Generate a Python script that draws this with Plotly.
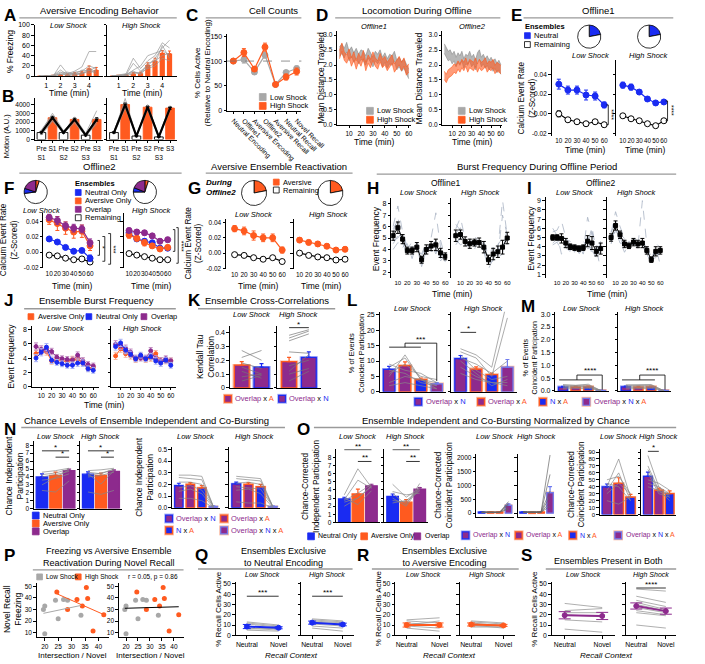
import plotly.graph_objects as go
import numpy as np

W, H = 705, 664
FONT = "Liberation Sans, Arial, Helvetica, sans-serif"
OR = "#FF5A1F"
BL = "#1A2BF2"
PU = "#8D2A8D"
GRY = "#A8A8A8"
LOR = "#F9B79E"
LBL = "#A8B1F7"
MICE = "#959595"
DASH = "#A9B4C4"

# ================= DATA =================
A_TIME = [0.5, 1.0, 1.5, 2.0, 2.5, 3.0, 3.5, 4.0, 4.5]
A_LOW_MEAN = [0, 0.5, 1, 2, 3, 5, 7, 15, 12]
A_LOW_SEM = [0, 0.3, 0.5, 1, 1.5, 2, 2.5, 5, 5]
A_HIGH_MEAN = [0, 1, 2, 5, 6, 22, 30, 45, 44]
A_HIGH_SEM = [0, 0.5, 1, 2, 2, 4, 5, 5, 5]
A_LOW_MICE = [[0, 0, 1, 22, 5, 10, 18, 48, 48], [0, 0, 2, 12, 3, 8, 10, 20, 15],
              [0, 1, 0, 6, 8, 4, 12, 10, 18], [0, 0, 1, 4, 2, 6, 5, 15, 8],
              [0, 0, 0, 3, 6, 2, 8, 6, 12], [0, 0, 2, 8, 1, 3, 4, 12, 5]]
A_HIGH_MICE = [[0, 2, 5, 35, 15, 30, 40, 65, 55], [0, 1, 3, 25, 10, 20, 35, 55, 70],
               [0, 0, 2, 12, 20, 40, 45, 50, 40], [0, 1, 2, 8, 5, 25, 30, 40, 45],
               [0, 0, 1, 5, 8, 15, 20, 35, 30], [0, 1, 4, 10, 3, 18, 25, 60, 35]]

B_POS = [0, 1, 2, 3, 4, 5]
B_LABELS = ["Pre<br>S1", "S1", "Pre<br>S2", "S2", "Pre<br>S3", "S3"]
B_LOW = [800, 2500, 800, 2300, 500, 2300]
B_LOW_SEM = [150, 150, 100, 150, 80, 200]
B_HIGH = [800, 4000, 400, 3700, 300, 3600]
B_HIGH_SEM = [100, 200, 80, 150, 60, 150]
B_LOW_MICE = [[900, 2600, 700, 2400, 500, 2500], [600, 2200, 900, 2100, 400, 2000],
              [1100, 2800, 800, 2600, 700, 3300], [700, 2400, 600, 2200, 300, 2100],
              [1000, 3000, 1000, 2300, 600, 2400], [500, 2100, 700, 1900, 400, 1800]]
B_HIGH_MICE = [[900, 4300, 500, 3900, 400, 3800], [700, 3800, 300, 3500, 200, 3500],
               [800, 4700, 400, 4000, 300, 3700], [600, 3600, 500, 3400, 200, 3300],
               [1000, 4100, 300, 3800, 400, 3900]]

C_POS = [0, 1, 2, 3, 4, 5, 6]
C_CATS = ["Neutral Encoding", "Offline1", "Aversive Encoding", "Offline2",
          "Aversive Recall", "Neutral Recall", "Novel Recall"]
C_LOW = [100, 103, 78, 112, 53, 77, 85]
C_LOW_SEM = [0, 7, 5, 6, 3, 4, 5]
C_HIGH = [100, 117, 84, 128, 53, 68, 79]
C_HIGH_SEM = [0, 8, 5, 8, 3, 6, 7]

D_TIME = [2, 4, 6, 8, 10, 12, 14, 16, 18, 20, 22, 24, 26, 28, 30,
          32, 34, 36, 38, 40, 42, 44, 46, 48, 50, 52, 54, 56, 58, 60]
D1_LOW = [2.45, 2.55, 2.4, 2.6, 2.3, 2.45, 2.25, 2.4, 2.2, 2.35, 2.3, 2.15, 2.4, 2.25, 2.1,
          2.3, 2.2, 2.35, 2.1, 2.25, 2.05, 2.2, 2.15, 2.3, 2.0, 2.1, 1.95, 2.05, 1.85, 1.7]
D1_HIGH = [2.35, 2.6, 2.3, 2.2, 2.4, 2.1, 2.3, 2.0, 2.25, 2.1, 2.35, 1.95, 2.2, 2.05, 2.3,
           2.1, 2.0, 2.25, 2.05, 2.15, 1.95, 2.1, 2.2, 1.9, 2.05, 2.15, 1.95, 2.1, 1.8, 1.9]
D2_LOW = [2.55, 2.4, 2.3, 2.35, 2.2, 2.3, 2.1, 2.25, 2.15, 2.3, 2.05, 2.2, 2.15, 2.3, 2.1,
          2.2, 2.0, 2.25, 2.35, 2.1, 2.2, 2.05, 2.15, 2.0, 2.1, 1.95, 2.05, 1.9, 2.0, 1.85]
D2_HIGH = [1.65, 1.55, 1.7, 1.75, 1.8, 1.9, 1.85, 2.0, 1.9, 2.05, 1.95, 2.1, 1.9, 2.05, 2.0,
           1.95, 2.1, 1.9, 2.05, 1.95, 2.0, 2.1, 1.9, 2.0, 1.95, 2.05, 1.85, 1.95, 1.9, 1.85]
D_SEM_LOW = 0.16
D_SEM_HIGH = 0.14

E_TIME = [10, 20, 30, 40, 50, 60]
E_LOW_NEU = [0.030, 0.024, 0.024, 0.019, 0.018, 0.009]
E_LOW_NEU_SEM = [0.005, 0.004, 0.004, 0.005, 0.004, 0.003]
E_LOW_REM = [0.000, -0.006, -0.008, -0.010, -0.008, -0.011]
E_LOW_REM_SEM = [0.003, 0.002, 0.002, 0.002, 0.002, 0.002]
E_HIGH_NEU = [0.029, 0.027, 0.022, 0.015, 0.011, 0.012]
E_HIGH_NEU_SEM = [0.003, 0.003, 0.002, 0.002, 0.002, 0.002]
E_HIGH_REM = [-0.002, -0.005, -0.007, -0.010, -0.012, -0.007]
E_HIGH_REM_SEM = [0.001, 0.001, 0.001, 0.001, 0.001, 0.001]
E_PIE_LOW = [22, 78]
E_PIE_HIGH = [22, 78]

F_TIME = [10, 20, 30, 40, 50, 60]
F_LOW_OVL = [0.045, 0.041, 0.034, 0.031, 0.030, 0.012]
F_LOW_OVL_SEM = [0.004, 0.005, 0.005, 0.005, 0.005, 0.005]
F_LOW_AVE = [0.042, 0.037, 0.031, 0.026, 0.027, 0.008]
F_LOW_AVE_SEM = [0.006, 0.009, 0.008, 0.008, 0.008, 0.006]
F_LOW_NEU = [0.017, 0.013, 0.006, 0.001, 0.002, -0.008]
F_LOW_NEU_SEM = [0.003, 0.002, 0.002, 0.002, 0.002, 0.004]
F_LOW_REM = [-0.004, -0.005, -0.008, -0.010, -0.009, -0.013]
F_LOW_REM_SEM = [0.001, 0.001, 0.001, 0.001, 0.001, 0.001]
F_HIGH_OVL = [0.028, 0.026, 0.025, 0.021, 0.014, 0.016]
F_HIGH_OVL_SEM = [0.003, 0.003, 0.003, 0.003, 0.003, 0.003]
F_HIGH_AVE = [0.022, 0.018, 0.012, 0.008, 0.004, 0.006]
F_HIGH_AVE_SEM = [0.004, 0.004, 0.004, 0.003, 0.003, 0.003]
F_HIGH_NEU = [0.025, 0.017, 0.014, 0.012, 0.005, 0.005]
F_HIGH_NEU_SEM = [0.003, 0.003, 0.003, 0.003, 0.003, 0.003]
F_HIGH_REM = [-0.002, -0.004, -0.006, -0.008, -0.010, -0.010]
F_HIGH_REM_SEM = [0.001, 0.001, 0.001, 0.001, 0.001, 0.001]
F_PIE_LOW = [5, 68, 7, 20]    # aversive, remaining, neutral, overlap
F_PIE_HIGH = [5, 70, 6, 19]

G_TIME = [10, 20, 30, 40, 50, 60]
G_LOW_AVE = [0.032, 0.029, 0.023, 0.020, 0.020, 0.004]
G_LOW_AVE_SEM = [0.004, 0.005, 0.006, 0.005, 0.005, 0.004]
G_LOW_REM = [-0.002, -0.003, -0.006, -0.008, -0.006, -0.011]
G_LOW_REM_SEM = [0.001, 0.001, 0.001, 0.001, 0.001, 0.001]
G_HIGH_AVE = [0.017, 0.014, 0.012, 0.009, 0.004, 0.005]
G_HIGH_AVE_SEM = [0.003, 0.003, 0.003, 0.003, 0.003, 0.003]
G_HIGH_REM = [0.000, -0.003, -0.005, -0.006, -0.009, -0.008]
G_HIGH_REM_SEM = [0.001, 0.001, 0.001, 0.001, 0.001, 0.001]
G_PIE_LOW = [22, 78]
G_PIE_HIGH = [22, 78]

H_TIME = [5, 10, 15, 20, 25, 30, 35, 40, 45, 50, 55, 60]
H_LOW_MEAN = [5.2, 5.9, 4.9, 3.9, 3.9, 4.2, 3.1, 4.0, 4.3, 4.4, 3.7, 3.4]
H_LOW_SEM = [0.4, 0.5, 0.4, 0.3, 0.3, 0.4, 0.3, 0.4, 0.4, 0.5, 0.4, 0.3]
H_HIGH_MEAN = [5.2, 5.3, 4.7, 4.5, 4.6, 4.6, 4.2, 3.1, 3.6, 3.8, 4.2, 5.0]
H_HIGH_SEM = [0.5, 0.4, 0.4, 0.4, 0.3, 0.4, 0.5, 0.4, 0.5, 0.5, 0.6, 0.5]
H_LOW_MICE = [[6.0, 7.8, 5.5, 4.2, 3.6, 4.8, 2.5, 3.8, 5.0, 7.2, 4.2, 3.0],
              [4.5, 5.2, 4.6, 3.4, 4.3, 3.9, 3.6, 4.6, 3.8, 4.0, 3.2, 4.1],
              [5.8, 6.5, 4.2, 4.5, 3.2, 4.6, 2.8, 3.5, 4.6, 3.6, 4.8, 3.2],
              [4.8, 5.0, 5.6, 3.8, 4.1, 3.5, 3.4, 4.4, 4.2, 4.8, 3.5, 3.7],
              [5.5, 6.8, 4.9, 3.6, 3.9, 4.2, 2.6, 3.9, 3.9, 4.3, 3.0, 3.5],
              [4.0, 4.6, 4.4, 4.0, 4.7, 4.4, 3.3, 4.0, 4.5, 3.8, 3.9, 2.9]]
H_HIGH_MICE = [[5.8, 6.8, 4.9, 4.4, 5.2, 4.6, 3.8, 2.3, 3.2, 4.0, 8.3, 5.2],
               [4.6, 5.0, 4.2, 4.8, 4.0, 5.0, 4.6, 3.5, 4.2, 3.3, 3.6, 6.0],
               [6.2, 5.6, 5.1, 3.9, 4.9, 4.2, 3.9, 2.8, 3.0, 4.4, 5.0, 4.4],
               [4.9, 4.4, 4.6, 4.7, 4.3, 4.9, 4.4, 3.6, 3.9, 3.6, 3.9, 5.6],
               [5.4, 5.9, 4.5, 4.1, 4.6, 4.4, 4.8, 2.9, 3.7, 3.9, 4.4, 4.8],
               [4.4, 5.0, 5.0, 5.0, 4.2, 4.2, 4.0, 3.4, 3.4, 3.5, 7.0, 5.3]]
I_LOW_MEAN = [5.0, 5.0, 4.9, 4.4, 4.0, 3.9, 3.8, 3.9, 4.6, 4.4, 3.5, 3.8]
I_LOW_SEM = [0.3, 0.3, 0.5, 0.5, 0.3, 0.3, 0.3, 0.3, 0.6, 0.7, 0.5, 0.6]
I_HIGH_MEAN = [5.0, 6.3, 5.3, 4.3, 4.1, 4.5, 4.3, 4.4, 3.6, 2.6, 3.5, 3.6]
I_HIGH_SEM = [0.4, 0.5, 0.4, 0.4, 0.3, 0.4, 0.4, 0.5, 0.4, 0.3, 0.5, 0.4]
I_LOW_MICE = [[5.6, 5.8, 6.8, 5.0, 4.2, 3.6, 4.0, 3.5, 7.2, 5.5, 3.0, 4.6],
              [4.4, 4.8, 4.2, 3.8, 3.5, 4.2, 3.3, 4.6, 4.0, 5.6, 4.2, 3.0],
              [6.0, 5.2, 5.5, 4.8, 4.6, 3.4, 4.2, 3.2, 5.2, 3.6, 2.8, 4.4],
              [4.2, 4.5, 3.6, 4.2, 3.8, 4.4, 3.6, 4.4, 3.8, 4.0, 3.8, 1.5],
              [5.2, 4.6, 4.9, 4.6, 3.7, 3.8, 3.9, 4.1, 4.9, 3.2, 3.6, 4.0],
              [4.8, 5.3, 3.2, 3.5, 4.3, 4.0, 3.2, 3.8, 4.2, 6.2, 3.4, 3.7]]
I_HIGH_MICE = [[5.5, 7.8, 6.2, 4.8, 3.9, 5.0, 4.6, 4.0, 3.2, 2.2, 4.4, 3.9],
               [4.6, 6.8, 5.0, 3.8, 4.6, 4.1, 4.0, 9.0, 4.2, 2.8, 3.0, 3.4],
               [5.2, 5.6, 5.6, 4.5, 3.6, 4.8, 4.8, 4.2, 3.0, 2.4, 3.6, 4.0],
               [4.3, 6.0, 4.6, 3.4, 4.3, 4.4, 3.8, 4.6, 3.9, 3.0, 3.2, 3.2],
               [5.6, 6.5, 5.4, 4.9, 4.4, 4.2, 4.4, 3.6, 3.8, 2.5, 4.0, 2.0],
               [4.8, 5.8, 4.4, 4.2, 3.9, 4.7, 3.9, 4.4, 3.5, 2.7, 2.8, 3.6]]

J_TIME = [5, 10, 15, 20, 25, 30, 35, 40, 45, 50, 55, 60]
J_LOW_AVE = [4.6, 5.0, 4.9, 3.6, 3.8, 3.6, 3.5, 3.8, 3.8, 3.4, 2.6, 2.7]
J_LOW_NEU = [4.0, 4.8, 5.5, 3.7, 3.4, 3.2, 3.0, 3.0, 3.3, 3.3, 2.5, 2.3]
J_LOW_OVL = [5.6, 5.2, 5.2, 4.9, 4.1, 3.9, 3.8, 3.7, 4.4, 3.6, 3.1, 2.9]
J_HIGH_AVE = [4.3, 5.3, 4.6, 4.3, 3.8, 4.3, 3.8, 4.0, 4.6, 3.6, 3.6, 3.6]
J_HIGH_NEU = [5.6, 6.1, 5.1, 4.5, 3.9, 4.4, 3.9, 4.2, 3.6, 3.3, 3.7, 3.0]
J_HIGH_OVL = [5.9, 5.7, 5.3, 4.8, 4.0, 4.0, 4.0, 5.0, 3.9, 3.6, 3.9, 3.6]
J_SEM = [0.5, 0.5, 0.5, 0.45, 0.4, 0.4, 0.4, 0.45, 0.45, 0.45, 0.4, 0.4]

K_POS = [0, 1]
K_LOW = [0.165, 0.15]
K_LOW_SEM = [0.025, 0.025]
K_HIGH = [0.19, 0.22]
K_HIGH_SEM = [0.03, 0.04]
K_LOW_PAIRS = [[0.27, 0.20], [0.22, 0.27], [0.18, 0.14], [0.15, 0.10], [0.12, 0.07], [0.08, 0.10], [0.05, 0.09]]
K_HIGH_PAIRS = [[0.34, 0.39], [0.36, 0.41], [0.38, 0.42], [0.26, 0.25], [0.16, 0.20], [0.10, 0.14], [0.05, 0.12], [0.12, 0.24]]

L_POS = [0, 1, 2, 3]
L_LOW = [7.3, 8.5, 4.0, 2.6]
L_LOW_SEM = [1.0, 1.2, 0.5, 0.4]
L_HIGH = [10.8, 7.4, 5.6, 8.0]
L_HIGH_SEM = [1.0, 0.7, 0.5, 2.5]
L_LOW_MICE = [[5, 12, 4, 2], [8, 11, 4, 3], [7, 6, 3, 2], [3, 5, 4, 1], [6, 9, 5, 4], [9, 7, 6, 3], [2, 3, 2, 1]]
L_HIGH_MICE = [[14, 12, 8, 30], [13, 11, 5, 24], [12, 7, 4, 5], [8, 5, 3, 3], [11, 9, 6, 10], [10, 6, 2, 4], [6, 4, 3, 2]]

M_LOW = [0.15, 0.15, 0.16, 0.02]
M_LOW_SEM = [0.03, 0.03, 0.03, 0.01]
M_HIGH = [0.16, 0.15, 0.16, 0.02]
M_HIGH_SEM = [0.03, 0.03, 0.03, 0.01]
M_LOW_MICE = [[0.25, 0.22, 0.26, 0.01], [0.2, 0.22, 0.22, 0.01], [0.12, 0.15, 0.18, 0.01], [0.08, 0.1, 0.1, 0.0], [0.18, 0.16, 0.14, 0.01]]
M_HIGH_MICE = [[0.24, 0.24, 0.25, 0.01], [0.2, 0.2, 0.22, 0.01], [0.14, 0.12, 0.15, 0.0], [0.08, 0.09, 0.1, 0.0], [0.18, 0.17, 0.18, 0.01]]

N_POS3 = [0, 1, 2]
N1_LOW = [4.0, 4.2, 4.8]
N1_LOW_SEM = [0.4, 0.4, 0.2]
N1_HIGH = [4.35, 4.2, 4.7]
N1_HIGH_SEM = [0.3, 0.3, 0.2]
N1_LOW_MICE = [[4.6, 4.8, 5.1], [4.3, 4.5, 5.0], [3.0, 4.0, 4.9], [2.3, 2.1, 3.5], [4.0, 4.3, 4.7], [3.6, 3.8, 4.4]]
N1_HIGH_MICE = [[4.8, 4.9, 5.1], [4.6, 4.4, 5.0], [2.1, 1.8, 2.3], [4.4, 3.1, 4.8], [4.2, 4.5, 4.9], [4.0, 4.2, 4.6]]
N2_LOW = [0.19, 0.20, 0.17, 0.01]
N2_LOW_SEM = [0.02, 0.015, 0.02, 0.005]
N2_HIGH = [0.205, 0.20, 0.18, 0.01]
N2_HIGH_SEM = [0.015, 0.015, 0.02, 0.005]
N2_LOW_MICE = [[0.28, 0.28, 0.27, 0.01], [0.26, 0.25, 0.24, 0.01], [0.22, 0.22, 0.2, 0.01], [0.08, 0.08, 0.06, 0.0], [0.17, 0.19, 0.15, 0.01], [0.14, 0.16, 0.12, 0.0]]
N2_HIGH_MICE = [[0.27, 0.26, 0.25, 0.01], [0.25, 0.24, 0.23, 0.01], [0.21, 0.22, 0.2, 0.01], [0.05, 0.04, 0.04, 0.0], [0.18, 0.17, 0.16, 0.01], [0.15, 0.16, 0.12, 0.0]]

O1_LOW = [2.9, 3.5, 4.5]
O1_LOW_SEM = [0.2, 0.6, 0.2]
O1_HIGH = [3.2, 2.5, 4.1]
O1_HIGH_SEM = [0.3, 0.3, 0.2]
O1_LOW_MICE = [[2.8, 5.2, 4.2], [2.5, 3.0, 4.4], [3.0, 2.2, 3.9], [2.7, 3.6, 4.7], [2.0, 3.0, 4.5], [3.4, 6.6, 4.3]]
O1_HIGH_MICE = [[4.7, 3.1, 4.2], [3.6, 2.2, 4.8], [2.7, 2.5, 3.9], [3.0, 2.0, 4.4], [3.8, 3.4, 3.6], [2.4, 2.7, 4.0]]
O2_LOW = [35, 35, 35, 280]
O2_LOW_SEM = [10, 10, 10, 60]
O2_HIGH = [40, 30, 40, 740]
O2_HIGH_SEM = [10, 10, 10, 220]
O2_LOW_MICE = [[40, 35, 30, 420], [30, 40, 35, 350], [35, 30, 40, 200], [20, 25, 30, 150], [45, 40, 35, 300]]
O2_HIGH_MICE = [[40, 30, 35, 2100], [35, 25, 40, 1400], [45, 35, 45, 800], [30, 20, 30, 400], [40, 35, 35, 600], [35, 30, 40, 250]]
O3_LOW = [40, 45, 25]
O3_LOW_SEM = [4, 8, 4]
O3_HIGH = [55, 35, 30]
O3_HIGH_SEM = [6, 3, 4]
O3_LOW_MICE = [[40, 80, 25], [35, 60, 20], [30, 45, 30], [20, 15, 25], [45, 40, 20], [50, 55, 30]]
O3_HIGH_MICE = [[85, 40, 25], [70, 35, 30], [50, 45, 35], [60, 30, 25], [45, 40, 30], [40, 35, 20], [65, 33, 28]]

P_LOW_X = [19.5, 20, 20, 24, 25, 27, 28.5, 33.5]
P_LOW_Y = [30, 33, 9, 38, 22, 38.5, 38, 25]
P_HIGH_X = [24.5, 28.5, 32, 34, 35.5, 36, 38, 42]
P_HIGH_Y = [45, 30, 38.5, 33, 49, 39.5, 11.5, 25.5]

CTX_POS = [0, 1]
CTX = ["Neutral", "Novel"]
Q_LOW = [8.5, 7.3]
Q_LOW_SEM = [2.0, 1.0]
Q_LOW_MICE = [[13, 10], [11, 8], [9, 6], [7, 5], [5, 4], [12, 9], [6, 7]]
Q_HIGH = [12.3, 10.5]
Q_HIGH_SEM = [1.5, 1.3]
Q_HIGH_MICE = [[16, 14], [15, 13], [13, 11], [11, 9], [9, 7], [7, 4], [14, 12]]
R_LOW = [10.0, 10.0]
R_LOW_SEM = [2.0, 2.0]
R_LOW_MICE = [[15, 17], [14, 12], [12, 10], [9, 7], [7, 4], [10, 14]]
R_HIGH = [10.5, 9.6]
R_HIGH_SEM = [1.5, 1.0]
R_HIGH_MICE = [[14, 12], [13, 11], [11, 10], [9, 9], [8, 8], [12, 9], [10, 7]]
S_LOW = [19.5, 18.8]
S_LOW_SEM = [3.5, 3.5]
S_LOW_MICE = [[31, 27], [24, 26], [22, 22], [20, 18], [15, 13], [6, 3]]
S_HIGH = [28.5, 23.5]
S_HIGH_SEM = [3.0, 3.0]
S_HIGH_MICE = [[45, 43], [38, 32], [34, 28], [32, 25], [30, 24], [27, 22], [24, 20], [22, 19], [10, 7]]

# ================= HELPERS =================
fig = go.Figure()
LAY, ANN, SHP, AX = {}, [], [], {}
_n = [0]


def txt(x, y, s, size=8, color="black", bold=False, italic=False, xanchor="center",
        yanchor="middle", angle=0, xref="paper", yref="paper", align="center", yshift=0):
    if bold:
        s = "<b>" + s + "</b>"
    if italic:
        s = "<i>" + s + "</i>"
    ANN.append(dict(x=x / W if xref == "paper" else x, y=1 - y / H if yref == "paper" else y,
                    xref=xref, yref=yref, text=s, showarrow=False, align=align, yshift=yshift,
                    font=dict(size=size, color=color, family=FONT),
                    xanchor=xanchor, yanchor=yanchor, textangle=angle))


def letter(x, y, L):
    txt(x, y, L, 17, bold=True, xanchor="left", yanchor="top")


def pline(pts, color="black", width=0.8):
    path = "M " + " L ".join("%.5f,%.5f" % (x / W, 1 - y / H) for x, y in pts)
    SHP.append(dict(type="path", xref="paper", yref="paper", path=path,
                    line=dict(color=color, width=width)))


def section(xc, y, text, x0, x1, yl, size=9.5):
    txt(xc, y, text, size)
    pline([(x0, yl), (x1, yl)], "#9A9A9A", 1.3)


def sq(x, y, fill, edge="black", s=6, lw=0.8, dash=None):
    SHP.append(dict(type="rect", xref="paper", yref="paper", x0=(x - s / 2) / W, x1=(x + s / 2) / W,
                    y0=1 - (y + s / 2) / H, y1=1 - (y - s / 2) / H, fillcolor=fill,
                    line=dict(color=edge, width=lw, dash=dash)))


def legitem(x, y, fill, label, edge="black", size=7.5, s=6, lw=0.8, halo=None, dash=None):
    if halo:
        sq(x, y, halo, halo, s + 3, 0)
    sq(x, y, fill, edge, s, lw, dash)
    txt(x + s / 2 + 2, y, label, size, xanchor="left")


def axes(box, xr, yr, xticks=None, xtext=None, yticks=None, ytext=None, xlabels=True,
         ylabels=True, xline=True, xmarks=True, tickangle=0, xfs=7, yfs=7):
    _n[0] += 1
    s = "" if _n[0] == 1 else str(_n[0])
    x0, x1, y0, y1 = box
    com = dict(showgrid=False, zeroline=False, linecolor="black", linewidth=1, ticklen=2.5,
               tickwidth=0.8, tickcolor="black", fixedrange=True)
    xa = dict(com, domain=[x0 / W, x1 / W], range=xr, anchor="y" + s, showline=xline,
              ticks="outside" if xmarks else "", showticklabels=xlabels, tickangle=tickangle,
              tickfont=dict(size=xfs, family=FONT, color="black"))
    if xticks is not None:
        xa["tickmode"] = "array"
        xa["tickvals"] = xticks
        if xtext is not None:
            xa["ticktext"] = xtext
    ya = dict(com, domain=[1 - y1 / H, 1 - y0 / H], range=yr, anchor="x" + s, showline=True,
              ticks="outside", showticklabels=ylabels,
              tickfont=dict(size=yfs, family=FONT, color="black"))
    if yticks is not None:
        ya["tickmode"] = "array"
        ya["tickvals"] = yticks
        if ytext is not None:
            ya["ticktext"] = ytext
    LAY["xaxis" + s] = xa
    LAY["yaxis" + s] = ya
    ax = ("x" + s, "y" + s)
    AX[ax] = (box, xr, yr)
    return ax


def px(ax, xv, yv):
    (x0, x1, y0, y1), xr, yr = AX[ax]
    return (x0 + (xv - xr[0]) / (xr[1] - xr[0]) * (x1 - x0),
            y1 - (yv - yr[0]) / (yr[1] - yr[0]) * (y1 - y0))


def add(tr, ax):
    tr.update(xaxis=ax[0], yaxis=ax[1], showlegend=False, hoverinfo="skip")
    fig.add_trace(tr)


def lines(ax, x, y, color=MICE, width=0.7, dash=None):
    add(go.Scatter(x=x, y=y, mode="lines", line=dict(color=color, width=width, dash=dash)), ax)


def series(ax, x, y, err, color, mfill=None, size=6, width=1.2, symbol="circle", ecolor=None, ewidth=2):
    add(go.Scatter(x=x, y=y, mode="lines+markers", line=dict(color=color, width=width),
                   marker=dict(size=size, color=mfill or color, symbol=symbol,
                               line=dict(color=color, width=1)),
                   error_y=dict(type="data", array=err, color=ecolor or color, thickness=1, width=ewidth)), ax)


def bars(ax, xs, vals, sems, styles, w=0.72, lw=1.3):
    yr = AX[ax][2]
    pad = 0.018 * (yr[1] - yr[0])
    for k, v, e, st in zip(xs, vals, sems, styles):
        fill, edge, halo = st
        if halo:
            add(go.Bar(x=[k], y=[v + pad], width=[w + 0.18], marker=dict(color=halo, line=dict(width=0))), ax)
        add(go.Bar(x=[k], y=[v], width=[w], marker=dict(color=fill, line=dict(color=edge, width=lw)),
                   error_y=dict(type="data", array=[e], arrayminus=[0], symmetric=False,
                                color=edge, thickness=1.2, width=2)), ax)


def sig(ax, x0, x1, y, s, size=8):
    lines(ax, [x0, x1], [y, y], "black", 0.8)
    txt((x0 + x1) / 2, y, s, size, xref=ax[0], yref=ax[1], yanchor="bottom", yshift=-3)


def pie(cx, cy, r, vals, cols):
    fig.add_trace(go.Pie(values=vals, marker=dict(colors=cols, line=dict(color="black", width=0.8)),
                         domain=dict(x=[(cx - r) / W, (cx + r) / W], y=[1 - (cy + r) / H, 1 - (cy - r) / H]),
                         sort=False, direction="clockwise", rotation=0, textinfo="none",
                         hoverinfo="skip", showlegend=False))


def band(ax, x, y, sem, color, fillc):
    up = [a + sem for a in y]
    lo = [a - sem for a in y]
    add(go.Scatter(x=x, y=up, mode="lines", line=dict(width=0.6, color=color)), ax)
    add(go.Scatter(x=x, y=lo, mode="lines", line=dict(width=0.6, color=color), fill="tonexty", fillcolor=fillc), ax)


def fit(ax, xs, ys, color, width=1.0):
    a, b = np.polyfit(xs, ys, 1)
    xe = [min(xs), max(xs)]
    lines(ax, xe, [a * v + b for v in xe], color, width)


def span(c, t):
    return '<span style="color:%s">%s</span>' % (c, t)


LAB_OxN = span(PU, "Overlap") + " x " + span(BL, "N")
LAB_OxA = span(PU, "Overlap") + " x " + span(OR, "A")
LAB_NxA = span(BL, "N") + " x " + span(OR, "A")
LAB_OxNxA = span(PU, "Overlap") + " x " + span(BL, "N") + " x " + span(OR, "A")
ST_OxN = (PU, BL, LBL)
ST_OxA = (PU, OR, LOR)
ST_NxA = (BL, OR, LOR)
ST_OxNxA = (PU, "#6F7BEF", LOR)
COMBO = [ST_OxN, ST_OxA, ST_NxA, ST_OxNxA]
TRIO = [(BL, BL, None), (OR, OR, None), (PU, PU, None)]


def combo_legend_row(items, y, size=7.5):
    for x, fill, lab, edge, halo in items:
        legitem(x, y, fill, lab, edge=edge, s=7, lw=1.2, halo=halo, size=size)


# ================= A =================
letter(2, 0, "A")
section(103, 7, "Aversive Encoding Behavior", 20, 183, 14)
for i, (mean, sem, mice, lab, (bx0, bx1)) in enumerate([
        (A_LOW_MEAN, A_LOW_SEM, A_LOW_MICE, "Low Shock", (36, 107)),
        (A_HIGH_MEAN, A_HIGH_SEM, A_HIGH_MICE, "High Shock", (111, 183))]):
    ax = axes((bx0, bx1, 21, 73), [0.2, 5.0], [0, 100], xticks=[1, 2, 3, 4],
              yticks=[0, 20, 40, 60, 80, 100], ylabels=(i == 0))
    add(go.Bar(x=A_TIME, y=mean, width=0.36, marker=dict(color=OR, line=dict(width=0)),
               error_y=dict(type="data", array=sem, arrayminus=[0] * len(sem), symmetric=False,
                            color=OR, thickness=1, width=1.5)), ax)
    for m in mice:
        lines(ax, A_TIME, m)
    txt((bx0 + bx1) / 2, 22, lab, 7.5, italic=True)
    txt((bx0 + bx1) / 2, 90, "Time (min)", 8.5)
txt(11, 48, "% Freezing", 8.5, angle=-90)

# ================= B =================
letter(0, 82, "B")
for i, (mean, sem, mice, (bx0, bx1)) in enumerate([
        (B_LOW, B_LOW_SEM, B_LOW_MICE, (36, 107)), (B_HIGH, B_HIGH_SEM, B_HIGH_MICE, (111, 183))]):
    ax = axes((bx0, bx1, 95, 137), [-0.6, 5.6], [0, 4750], xticks=B_POS, xtext=B_LABELS,
              yticks=[0, 1000, 2000, 3000, 4000], ylabels=(i == 0), xfs=6.6, yfs=6.6)
    fills = ["white" if k % 2 == 0 else OR for k in B_POS]
    edges = ["black" if k % 2 == 0 else OR for k in B_POS]
    add(go.Bar(x=B_POS, y=mean, width=0.78, marker=dict(color=fills, line=dict(color=edges, width=0.9)),
               error_y=dict(type="data", array=sem, color="black", thickness=1, width=1.5)), ax)
    for m in mice:
        lines(ax, B_POS, m, MICE, 0.7)
    add(go.Scatter(x=B_POS, y=mean, mode="lines+markers", line=dict(color="black", width=2.2),
                   marker=dict(size=4, color="black", symbol="triangle-down")), ax)
txt(7, 133, "Motion (A.U.)", 7.5, angle=-90)

# ================= C =================
letter(190, 0, "C")
section(283, 7, "Cell Counts", 213, 312, 14)
ax = axes((235, 312, 30, 108), [-0.6, 6.45], [0, 155], xticks=C_POS, xtext=C_CATS,
          yticks=[0, 50, 100, 150], tickangle=45, xfs=6.8)
SHP.append(dict(type="line", xref=ax[0] + " domain", yref=ax[1], x0=0, x1=1, y0=100, y1=100,
                line=dict(color="#777777", width=0.8, dash="dash")))
series(ax, C_POS, C_LOW, C_LOW_SEM, GRY, size=6)
series(ax, C_POS, C_HIGH, C_HIGH_SEM, OR, size=6)
legitem(272, 94, GRY, "Low Shock", edge=GRY, s=7)
legitem(272, 103, OR, "High Shock", edge=OR, s=7)
txt(209, 69, "% Cells Active<br>(Relative to Neutral Encoding)", 8, angle=-90)

# ================= D =================
letter(325, 0, "D")
section(432, 7, "Locomotion During Offline", 347, 518, 14)
for i, (low, high, lab, (bx0, bx1), yl) in enumerate([
        (D1_LOW, D1_HIGH, "Offline1", (349, 425), 333), (D2_LOW, D2_HIGH, "Offline2", (458, 520), 434)]):
    ax = axes((bx0, bx1, 27, 122), [0, 61.5], [0, 3.15], xticks=[10, 20, 30, 40, 50, 60],
              yticks=[0, 0.5, 1, 1.5, 2, 2.5, 3], ytext=["0.0", "0.5", "1.0", "1.5", "2.0", "2.5", "3.0"],
              xfs=6.5, yfs=6.5)
    band(ax, D_TIME, low, D_SEM_LOW, "#8A8A8A", "rgba(165,165,165,0.8)")
    band(ax, D_TIME, high, D_SEM_HIGH, OR, "rgba(255,90,31,0.6)")
    txt((bx0 + bx1) / 2, 23, lab, 7.5, italic=True)
    txt(yl, 75, "Mean Distance Traveled", 8.5, angle=-90)
    txt((bx0 + bx1) / 2, 139, "Time (min)", 8.5)
    legitem(bx1 - 42, 108, GRY, "Low Shock", edge=GRY, s=7)
    legitem(bx1 - 42, 117, OR, "High Shock", edge=OR, s=7)

# ================= E =================
letter(527, 0, "E")
section(620, 7, "Offline1", 542, 697, 14)
txt(541, 23, "Ensembles", 7.5, bold=True, xanchor="left")
legitem(546, 32, BL, "Neutral", edge=BL)
legitem(546, 41, "white", "Remaining")
pie(610, 33, 12, E_PIE_LOW, [BL, "white"])
pie(672, 33, 12, E_PIE_HIGH, [BL, "white"])
txt(612, 52, "Low Shock", 7.5, italic=True)
txt(672, 52, "High Shock", 7.5, italic=True)
for i, (neu, neus, rem, rems, (bx0, bx1, xr), bk, xc) in enumerate([
        (E_LOW_NEU, E_LOW_NEU_SEM, E_LOW_REM, E_LOW_REM_SEM, (571, 633, [2, 68]), (0.009, -0.011), 606),
        (E_HIGH_NEU, E_HIGH_NEU_SEM, E_HIGH_REM, E_HIGH_REM_SEM, (638, 700, [2, 75]), (0.013, -0.007), 668)]):
    ax = axes((bx0, bx1, 57, 133), xr, [-0.022, 0.054], xticks=E_TIME,
              yticks=[-0.02, 0, 0.02, 0.04], ytext=["-0.02", "0.00", "0.02", "0.04"],
              xline=False, xmarks=False, ylabels=(i == 0), xfs=6.3, yfs=6.5)
    series(ax, E_TIME, rem, rems, "black", mfill="white", size=6)
    series(ax, E_TIME, neu, neus, BL, size=6)
    xb, yt = px(ax, 64.5, bk[0])
    _, yb = px(ax, 64.5, bk[1])
    pline([(xb - 2, yt), (xb, yt), (xb, yb), (xb - 2, yb)], "black", 0.8)
    txt(xb + 3.5, (yt + yb) / 2, "****", 7, angle=90)
    txt(xc, 148, "Time (min)", 8.5)
txt(546, 95, "Calcium Event Rate<br>(Z-Scored)", 8.2, angle=-90)

# ================= F =================
letter(2, 175, "F")
section(103, 164, "Offline2", 20, 188, 171)
pie(37, 190, 12, F_PIE_LOW, [OR, "white", BL, PU])
pie(150, 190, 12, F_PIE_HIGH, [OR, "white", BL, PU])
txt(76, 181, "Ensembles", 7.5, bold=True, xanchor="left")
legitem(81, 190.5, BL, "Neutral Only", edge=BL)
legitem(81, 199, OR, "Aversive Only", edge=OR)
legitem(81, 207.5, PU, "Overlap", edge=PU)
legitem(81, 216, "white", "Remaining")
txt(43, 209, "Low Shock", 7.5, italic=True)
txt(157, 209, "High Shock", 7.5, italic=True)
for i, (sets, (bx0, bx1)) in enumerate([
        ([(F_LOW_REM, F_LOW_REM_SEM, "black", "white"), (F_LOW_NEU, F_LOW_NEU_SEM, BL, None),
          (F_LOW_AVE, F_LOW_AVE_SEM, OR, None), (F_LOW_OVL, F_LOW_OVL_SEM, PU, None)], (45, 100)),
        ([(F_HIGH_REM, F_HIGH_REM_SEM, "black", "white"), (F_HIGH_NEU, F_HIGH_NEU_SEM, BL, None),
          (F_HIGH_AVE, F_HIGH_AVE_SEM, OR, None), (F_HIGH_OVL, F_HIGH_OVL_SEM, PU, None)], (128, 180))]):
    ax = axes((bx0, bx1, 211, 267), [3, 68], [-0.021, 0.051], xticks=F_TIME,
              yticks=[-0.02, 0, 0.02, 0.04], ytext=["-0.02", "0.00", "0.02", "0.04"],
              xline=False, xmarks=False, ylabels=(i == 0), xfs=6.5, yfs=6.5)
    for y, e, c, mf in sets:
        series(ax, F_TIME, y, e, c, mfill=mf, size=6)
    txt((bx0 + bx1) / 2 + 2, 285, "Time (min)", 8.5)
pline([(101, 239), (103, 239), (103, 254), (101, 254)])
txt(106, 246, "*", 7, angle=90)
pline([(106, 235), (108.5, 235), (108.5, 260), (106, 260)])
pline([(112, 232), (114.5, 232), (114.5, 263), (112, 263)])
txt(118, 248, "***", 7, angle=90)
pline([(179, 228), (181, 228), (181, 250), (179, 250)])
pline([(182.5, 226), (184.5, 226), (184.5, 262), (182.5, 262)])
txt(188, 245, "****", 7, angle=90)
txt(10, 238, "Calcium Event Rate<br>(Z-Scored)", 8.2, angle=-90)

# ================= G =================
letter(193, 175, "G")
section(289, 164, "Aversive Ensemble Reactivation", 213, 365, 171)
txt(211, 185, "During<br>Offline2", 8, bold=True, italic=True, xanchor="left", align="left")
pie(263, 191, 13, G_PIE_LOW, [OR, "white"])
pie(342, 191, 13, G_PIE_HIGH, [OR, "white"])
legitem(286, 180, OR, "Aversive", edge=OR)
legitem(286, 188, "white", "Remaining")
txt(263, 213, "Low Shock", 7.5, italic=True)
txt(341, 213, "High Shock", 7.5, italic=True)
for i, (ave, aves, rem, rems, (bx0, bx1, xr)) in enumerate([
        (G_LOW_AVE, G_LOW_AVE_SEM, G_LOW_REM, G_LOW_REM_SEM, (234, 300, [1, 68])),
        (G_HIGH_AVE, G_HIGH_AVE_SEM, G_HIGH_REM, G_HIGH_REM_SEM, (304, 361, [3.5, 64]))]):
    ax = axes((bx0, bx1, 217, 268), xr, [-0.021, 0.045], xticks=G_TIME,
              yticks=[-0.02, 0, 0.02, 0.04], ytext=["-0.02", "0.00", "0.02", "0.04"],
              xline=False, xmarks=False, ylabels=(i == 0), xfs=6.5, yfs=6.5)
    series(ax, G_TIME, rem, rems, "black", mfill="white", size=6)
    series(ax, G_TIME, ave, aves, OR, size=6)
    txt((bx0 + bx1) / 2, 285, "Time (min)", 8.5)
txt(201, 242, "Calcium Event Rate<br>(Z-Scored)", 8.2, angle=-90)

# ================= H / I =================
letter(378, 175, "H")
section(556, 164, "Burst Frequency During Offline Period", 390, 700, 172)
txt(461, 181, "Offline1", 8.5)
for i, (mean, sem, mice, lab, (bx0, bx1, xr)) in enumerate([
        (H_LOW_MEAN, H_LOW_SEM, H_LOW_MICE, "Low Shock", (405, 463, [3, 62])),
        (H_HIGH_MEAN, H_HIGH_SEM, H_HIGH_MICE, "High Shock", (467, 528, [0, 63]))]):
    ax = axes((bx0, bx1, 196, 277), xr, [1.5, 8.5], xticks=[10, 20, 30, 40, 50, 60],
              yticks=[2, 3, 4, 5, 6, 7, 8], xline=False, xmarks=False, ylabels=(i == 0), xfs=6)
    for m in mice:
        lines(ax, H_TIME, m, DASH, 0.8, "dash")
    series(ax, H_TIME, mean, sem, "black", size=4, width=1, symbol="square")
    txt((bx0 + bx1) / 2, 191, lab, 7.5, italic=True)
txt(389, 237, "Event Frequency", 8.5, angle=-90)
txt(468, 293, "Time (min)", 8.5)

letter(543, 175, "I")
txt(622, 181, "Offline2", 8.5)
for i, (mean, sem, mice, lab, (bx0, bx1, xr)) in enumerate([
        (I_LOW_MEAN, I_LOW_SEM, I_LOW_MICE, "Low Shock", (565, 625, [-3, 63.5])),
        (I_HIGH_MEAN, I_HIGH_SEM, I_HIGH_MICE, "High Shock", (628, 690, [0, 67]))]):
    ax = axes((bx0, bx1, 195, 277), xr, [0.6, 9.4], xticks=[10, 20, 30, 40, 50, 60],
              yticks=[1, 2, 3, 4, 5, 6, 7, 8, 9], xline=False, xmarks=False, ylabels=(i == 0), xfs=6)
    for m in mice:
        lines(ax, H_TIME, m, DASH, 0.8, "dash")
    series(ax, H_TIME, mean, sem, "black", size=4, width=1, symbol="square")
    txt((bx0 + bx1) / 2, 191, lab, 7.5, italic=True)
txt(549, 237, "Event Frequency", 8.5, angle=-90)
txt(628, 293, "Time (min)", 8.5)

# ================= J =================
letter(2, 288, "J")
section(100, 300, "Ensemble Burst Frequency", 25, 182, 308)
legitem(32, 316, OR, "Aversive Only", edge=OR)
legitem(92, 316, BL, "Neutral Only", edge=BL)
legitem(149, 316, PU, "Overlap", edge=PU)
for i, (ave, neu, ovl, lab, (bx0, bx1, xr)) in enumerate([
        (J_LOW_AVE, J_LOW_NEU, J_LOW_OVL, "Low Shock", (33, 103, [1, 66])),
        (J_HIGH_AVE, J_HIGH_NEU, J_HIGH_OVL, "High Shock", (115, 182, [0.5, 65]))]):
    ax = axes((bx0, bx1, 325, 387), xr, [0, 8.5], xticks=[10, 20, 30, 40, 50, 60],
              yticks=[0, 2, 4, 6, 8], ylabels=(i == 0), xfs=6.5)
    series(ax, J_TIME, ave, J_SEM, OR, size=4, width=1, ecolor=LOR)
    series(ax, J_TIME, ovl, J_SEM, PU, size=4, width=1, ecolor="#C08AC0")
    series(ax, J_TIME, neu, J_SEM, BL, size=4, width=1, ecolor=LBL)
    txt((bx0 + bx1) / 2, 328, lab, 7.5, italic=True)
txt(12, 356, "Event Frequency", 8.5, angle=-90)
txt(108, 405, "Time (min)", 8.5)

# ================= K =================
letter(193, 288, "K")
section(276, 300, "Ensemble Cross-Correlations", 205, 347, 308)
kax = []
for i, (vals, sems, pairs, lab, (bx0, bx1)) in enumerate([
        (K_LOW, K_LOW_SEM, K_LOW_PAIRS, "Low Shock", (238, 283)),
        (K_HIGH, K_HIGH_SEM, K_HIGH_PAIRS, "High Shock", (287, 332))]):
    ax = axes((bx0, bx1, 325, 388), [-0.6, 1.6], [0, 0.45], xticks=[], xlabels=False, xmarks=False,
              yticks=[0, 0.1, 0.2, 0.3, 0.4], ytext=["0", "0.1", "0.2", "0.3", "0.4"], ylabels=(i == 0))
    bars(ax, K_POS, vals, sems, [ST_OxA, ST_OxN], w=0.75)
    for p in pairs:
        lines(ax, K_POS, p, "#777777", 0.7)
    txt((bx0 + bx1) / 2, 314, lab, 7.5, italic=True)
    kax.append(ax)
sig(kax[1], 0, 1, 0.435, "*")
txt(212, 356, "Kendall Tau<br>Correlation", 8.5, angle=-90)
combo_legend_row([(236, PU, LAB_OxA, OR, LOR), (292, PU, LAB_OxN, BL, LBL)], 399)

# ================= L =================
letter(357, 288, "L")
lax = []
for i, (vals, sems, mice, lab, (bx0, bx1)) in enumerate([
        (L_LOW, L_LOW_SEM, L_LOW_MICE, "Low Shock", (393, 462)),
        (L_HIGH, L_HIGH_SEM, L_HIGH_MICE, "High Shock", (467, 535))]):
    ax = axes((bx0, bx1, 311, 392), [-0.6, 3.6], [0, 26], xticks=[], xlabels=False, xmarks=False,
              yticks=[0, 5, 10, 15, 20, 25], ylabels=(i == 0))
    bars(ax, L_POS, vals, sems, COMBO)
    for m in mice:
        lines(ax, L_POS, m, "#888888", 0.7)
    txt((bx0 + bx1) / 2, 308, lab, 7.5, italic=True)
    lax.append(ax)
lines(lax[0], [0, 2], [14.5, 14.5], "black", 0.8)
lines(lax[0], [1, 1, 3, 3], [14.5, 15.8, 15.8, 3.5], "black", 0.8)
txt(2, 15.8, "***", 8, xref=lax[0][0], yref=lax[0][1], yanchor="bottom", yshift=-3)
sig(lax[1], 0, 1, 19.3, "*")
txt(369, 353, "% of Events<br>Coincident Participation", 7.5, angle=-90)
combo_legend_row([(433, PU, LAB_OxN, BL, LBL), (498, PU, LAB_OxA, OR, LOR),
                  (562, BL, LAB_NxA, OR, LOR), (607, PU, LAB_OxNxA, "#6F7BEF", LOR)], 402)

# ================= M =================
letter(537, 294, "M")
for i, (vals, sems, mice, lab, (bx0, bx1)) in enumerate([
        (M_LOW, M_LOW_SEM, M_LOW_MICE, "Low Shock", (575, 630)),
        (M_HIGH, M_HIGH_SEM, M_HIGH_MICE, "High Shock", (640, 695))]):
    ax = axes((bx0, bx1, 311, 391), [-0.6, 3.6], [0, 3.1], xticks=[], xlabels=False, xmarks=False,
              yticks=[0, 0.5, 1, 1.5, 2, 2.5, 3], ytext=["0.0", "0.5", "1.0", "1.5", "2.0", "2.5", "3.0"],
              ylabels=(i == 0))
    bars(ax, L_POS, vals, sems, COMBO)
    for m in mice:
        lines(ax, L_POS, m, "#888888", 0.7)
    lines(ax, [-0.3, 2.3], [0.43, 0.43], "black", 0.8)
    lines(ax, [1.1, 1.1, 3.1, 3.1], [0.43, 0.62, 0.62, 0.05], "black", 0.8)
    txt(2.1, 0.66, "****", 8, xref=ax[0], yref=ax[1], yanchor="bottom", yshift=-3)
    txt((bx0 + bx1) / 2, 308, lab, 7.5, italic=True)
txt(549, 357, "% of Events<br>Coincident Participation", 7, angle=-90)

# ================= N =================
letter(2, 418, "N")
section(152, 421, "Chance Levels of Ensemble Independent and Co-Bursting", 22, 295, 428)
for i, (vals, sems, mice, lab, (bx0, bx1)) in enumerate([
        (N1_LOW, N1_LOW_SEM, N1_LOW_MICE, "Low Shock", (35, 80)),
        (N1_HIGH, N1_HIGH_SEM, N1_HIGH_MICE, "High Shock", (83, 126))]):
    ax = axes((bx0, bx1, 442, 510), [-0.6, 2.6], [0, 8.5], xticks=[], xlabels=False, xmarks=False,
              yticks=[0, 1, 2, 3, 4, 5, 6, 7, 8], ylabels=(i == 0), yfs=6.5)
    bars(ax, N_POS3, vals, sems, TRIO, w=0.85)
    for m in mice:
        lines(ax, N_POS3, m, "#888888", 0.7)
    sig(ax, 0, 2, 7.3, "*")
    sig(ax, 1, 2, 6.5, "*")
    txt((bx0 + bx1) / 2, 437, lab, 7.5, italic=True)
txt(15, 476, "Chance Independent<br>Participation", 8.5, angle=-90)
legitem(37, 517, BL, "Neutral Only", edge=BL, s=7)
legitem(37, 525, OR, "Aversive Only", edge=OR, s=7)
legitem(37, 533, PU, "Overlap", edge=PU, s=7)

for i, (vals, sems, mice, lab, (bx0, bx1)) in enumerate([
        (N2_LOW, N2_LOW_SEM, N2_LOW_MICE, "Low Shock", (178, 228)),
        (N2_HIGH, N2_HIGH_SEM, N2_HIGH_MICE, "High Shock", (237, 290))]):
    ax = axes((bx0, bx1, 448, 509), [-0.6, 3.6], [0, 0.52], xticks=[], xlabels=False, xmarks=False,
              yticks=[0, 0.1, 0.2, 0.3, 0.4, 0.5], ytext=["0.0", "0.1", "0.2", "0.3", "0.4", "0.5"],
              ylabels=(i == 0), yfs=6.5)
    bars(ax, L_POS, vals, sems, COMBO)
    for m in mice:
        lines(ax, L_POS, m, "#888888", 0.7)
    txt((bx0 + bx1) / 2, 437, lab, 7.5, italic=True)
txt(150, 478, "Chance Independent<br>Participation", 8.5, angle=-90)
combo_legend_row([(175, PU, LAB_OxN, BL, LBL), (232, PU, LAB_OxA, OR, LOR)], 520)
combo_legend_row([(175, BL, LAB_NxA, OR, LOR), (232, PU, LAB_OxNxA, "#6F7BEF", LOR)], 532)

# ================= O =================
letter(305, 418, "O")
section(513, 421, "Ensemble Independent and Co-Bursting Normalized by Chance", 325, 700, 428)
for i, (vals, sems, mice, lab, (bx0, bx1)) in enumerate([
        (O1_LOW, O1_LOW_SEM, O1_LOW_MICE, "Low Shock", (348, 393)),
        (O1_HIGH, O1_HIGH_SEM, O1_HIGH_MICE, "High Shock", (398, 443))]):
    ax = axes((bx0, bx1, 450, 524), [-0.6, 2.6], [0, 9.0], xticks=[], xlabels=False, xmarks=False,
              yticks=[0, 1, 2, 3, 4, 5, 6, 7, 8], ylabels=(i == 0), yfs=6.5)
    bars(ax, N_POS3, vals, sems, TRIO, w=0.85)
    for m in mice:
        lines(ax, N_POS3, m, "#888888", 0.7)
    sig(ax, 0, 2, 8.95, "**")
    sig(ax, 1, 2, 7.5, "**")
    txt((bx0 + bx1) / 2, 437, lab, 7.5, italic=True)
txt(322, 488, "Chance-Corrected<br>Independent Participation", 8.2, angle=-90)
legitem(322, 538, BL, "Neutral Only", edge=BL, s=7, size=7)
legitem(377, 538, OR, "Aversive Only", edge=OR, s=7, size=7)
legitem(432, 538, PU, "Overlap", edge=PU, s=7, size=7)

for i, (vals, sems, mice, lab, (bx0, bx1)) in enumerate([
        (O2_LOW, O2_LOW_SEM, O2_LOW_MICE, "Low Shock", (493, 532)),
        (O2_HIGH, O2_HIGH_SEM, O2_HIGH_MICE, "High Shock", (536, 575))]):
    ax = axes((bx0, bx1, 455, 518), [-0.6, 3.6], [-120, 2130], xticks=[], xlabels=False, xmarks=False,
              yticks=[0, 500, 1000, 1500, 2000], ylabels=(i == 0), yfs=6.5)
    bars(ax, L_POS, vals, sems, COMBO)
    for m in mice:
        lines(ax, L_POS, m, "#666666", 0.7)
    txt((bx0 + bx1) / 2, 437, lab, 7.5, italic=True)
txt(460, 486, "Chance-Corrected<br>Coincident Participation", 8.2, angle=-90)
combo_legend_row([(482, PU, LAB_OxN, BL, LBL), (537, PU, LAB_OxA, OR, LOR),
                  (593, BL, LAB_NxA, OR, LOR), (640, PU, LAB_OxNxA, "#6F7BEF", LOR)], 537, size=7)

for i, (vals, sems, mice, lab, (bx0, bx1)) in enumerate([
        (O3_LOW, O3_LOW_SEM, O3_LOW_MICE, "Low Shock", (621, 660)),
        (O3_HIGH, O3_HIGH_SEM, O3_HIGH_MICE, "High Shock", (664, 700))]):
    ax = axes((bx0, bx1, 450, 516), [-0.6, 2.6], [0, 94], xticks=[], xlabels=False, xmarks=False,
              yticks=[0, 10, 20, 30, 40, 50, 60, 70, 80, 90], ylabels=(i == 0), yfs=6)
    bars(ax, N_POS3, vals, sems, COMBO[:3], w=0.8)
    for m in mice:
        lines(ax, N_POS3, m, "#888888", 0.7)
    txt((bx0 + bx1) / 2, 437, lab, 7.5, italic=True)
    if i == 1:
        sig(ax, 0, 1, 91, "*")
txt(597, 486, "Chance-Corrected<br>Coincident Participation", 8.2, angle=-90)

# ================= P =================
letter(2, 546, "P")
txt(113, 559, "Freezing vs Aversive Ensemble<br>Reactivation During Novel Recall", 9)
pline([(34, 572), (190, 572)], "#9A9A9A", 1.3)
legitem(41, 579, GRY, "Low Shock", edge=GRY, size=6.5)
legitem(81, 579, OR, "High Shock", edge=OR, size=6.5)
txt(158, 579, "r = 0.05, p = 0.86", 6.5)
p1 = axes((38, 113, 585, 640), [17, 44], [6, 53], xticks=[20, 25, 30, 35, 40],
          yticks=[10, 20, 30, 40, 50], xfs=6.5, yfs=6.5)
p2 = axes((123, 190, 585, 640), [17, 44], [6, 53], xticks=[20, 25, 30, 35, 40],
          yticks=[10, 20, 30, 40, 50], xfs=6.5, yfs=6.5)
for ax in (p1, p2):
    add(go.Scatter(x=P_LOW_X, y=P_LOW_Y, mode="markers", marker=dict(size=5, color=GRY)), ax)
    add(go.Scatter(x=P_HIGH_X, y=P_HIGH_Y, mode="markers", marker=dict(size=5, color=OR)), ax)
fit(p1, P_LOW_X, P_LOW_Y, GRY, 1)
fit(p1, P_HIGH_X, P_HIGH_Y, OR, 1)
fit(p2, P_LOW_X + P_HIGH_X, P_LOW_Y + P_HIGH_Y, "black", 1)
txt(13, 612, "Novel Recall<br>Freezing", 8.5, angle=-90)
txt(75, 658, "Intersection / Novel", 8)
txt(156, 658, "Intersection / Novel", 8)


# ================= Q / R / S =================
def recall(letter_x, L, title, tx, ty, uline, boxes, sets, color, ytx, xtx, sigs, ewidth=4):
    letter(letter_x, 546, L)
    txt(tx, ty, title, 9)
    pline([(uline[0], 571), (uline[1], 571)], "#9A9A9A", 1.3)
    for i, ((bx0, bx1), (mean, sem, mice, lab)) in enumerate(zip(boxes, sets)):
        ax = axes((bx0, bx1, 584, 638), [-0.35, 1.35], [0, 52], xticks=CTX_POS, xtext=CTX,
                  yticks=[0, 10, 20, 30, 40, 50], ylabels=(i == 0), xfs=6.8, yfs=6.8)
        for m in mice:
            lines(ax, CTX_POS, m, "#9A9A9A", 0.8)
        series(ax, CTX_POS, mean, sem, color, size=5, width=2, ewidth=ewidth)
        if sigs[i]:
            sig(ax, 0, 1, sigs[i][0], sigs[i][1])
        txt((bx0 + bx1) / 2, 577, lab, 7, italic=True)
    txt(ytx, 611, "% Recall Cells Active", 8, angle=-90)
    txt(xtx, 658, "Recall Context", 8, italic=True)


recall(200, "Q", "Ensembles Exclusive<br>to Neutral Encoding", 293, 559, (205, 365),
       [(244, 300), (312, 366)],
       [(Q_LOW, Q_LOW_SEM, Q_LOW_MICE, "Low Shock"), (Q_HIGH, Q_HIGH_SEM, Q_HIGH_MICE, "High Shock")],
       BL, 226, 302, [(38, "***"), (38, "***")])
recall(368, "R", "Ensembles Exclusive<br>to Aversive Encoding", 460, 559, (385, 537),
       [(409, 467), (476, 533)],
       [(R_LOW, R_LOW_SEM, R_LOW_MICE, "Low Shock"), (R_HIGH, R_HIGH_SEM, R_HIGH_MICE, "High Shock")],
       OR, 392, 465, [None, None])
recall(537, "S", "Ensembles Present in Both", 630, 563, (565, 700),
       [(571, 637), (648, 700)],
       [(S_LOW, S_LOW_SEM, S_LOW_MICE, "Low Shock"), (S_HIGH, S_HIGH_SEM, S_HIGH_MICE, "High Shock")],
       PU, 553, 628, [None, (46, "****")], ewidth=6)

# ================= LAYOUT =================
fig.update_layout(width=W, height=H, margin=dict(l=0, r=0, t=0, b=0), autosize=False,
                  paper_bgcolor="white", plot_bgcolor="white", barmode="overlay", showlegend=False,
                  font=dict(family=FONT, size=7, color="black"), annotations=ANN, shapes=SHP, **LAY)
fig.write_html("out.html", include_plotlyjs=True, config={"displayModeBar": False},
               post_script="document.body.style.margin='0px';")
